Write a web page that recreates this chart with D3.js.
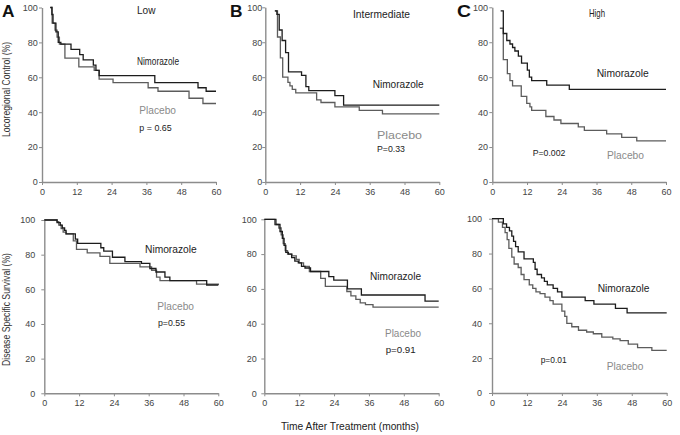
<!DOCTYPE html>
<html><head><meta charset="utf-8">
<script src="https://cdn.jsdelivr.net/npm/d3@7"></script>
<style>body{margin:0;background:#fff;} svg{display:block;font-family:Arial,"Liberation Sans",sans-serif;}</style>
</head><body>
<script>
// ---------------- DATA ----------------
const riskGroups = ["Low", "Intermediate", "High"];
const seriesNames = ["Nimorazole", "Placebo"];
const xTicks = [0, 12, 24, 36, 48, 60];
const yTicks = [0, 20, 40, 60, 80, 100];
const pLRC = ["p = 0.65", "P=0.33", "P=0.002"];
const pDSS = ["p=0.55", "p=0.91", "p=0.01"];

// Locoregional control, [month, %]
const lrcLowNim = [[2.8,100],[3.4,96],[3.8,91],[4.8,86],[5.6,80],[6.5,79],[10,76],[13,73],[14.2,70],[17.7,67],[18.6,64],[19.7,61],[38.9,57],[53.8,54],[56.6,52],[60,52]];
const lrcLowPla = [[3,100],[3.5,91],[4.5,87],[5.2,83],[6,79],[7.9,71],[12.7,66],[18,64],[19.7,59],[24.5,57],[36.6,54],[40,52],[50.7,48],[55.5,45],[60,45]];
const lrcIntNim = [[3.3,98],[4,96],[4.8,87],[5.8,81],[7,74],[8,63],[12.5,61],[14,54.6],[15,52.3],[24,49.4],[27,44],[60,44]];
const lrcIntPla = [[3.3,98],[4.2,83],[5.2,71],[6,60],[7.8,57],[8.5,55],[9.3,53],[10.5,51],[17.7,47],[19.2,45.5],[24,43],[32.4,41],[40.4,39],[60,39]];
const lrcHighNim = [[2.9,98],[3.8,85],[5,81],[6.1,79],[7,77],[7.8,75],[9,72],[10.1,68],[12.1,64],[12.8,60],[13.6,58],[18.8,55.5],[26.6,53],[60,53]];
const lrcHighPla = [[2.6,88],[3.8,70],[5.2,62],[6.1,58],[7,55],[10,49],[11.9,45],[13,43],[13.6,41],[18.5,37.5],[21.3,35.5],[23.7,33.5],[29.7,31.5],[31.8,29.5],[39.5,27.5],[44.7,25.5],[49.9,23.5],[60,23.5]];

// Disease specific survival, [month, %]
const dssLowNim = [[0,100],[4.4,98.5],[5.5,97],[6.2,95.5],[7,94],[7.5,92],[10.7,89],[11.5,86.5],[19.5,84],[20.5,82],[23.5,78.5],[27.8,76],[33.5,75],[36.4,72],[38.5,70],[41.6,67],[43.3,65],[53,65],[56,62.5],[60,62.5]];
const dssLowPla = [[0,100],[4.4,99],[5,97],[5.8,95],[6.5,93],[7.5,92],[10,88],[11.1,83],[14.8,81],[19.2,79],[22.6,75],[33,73],[37,71],[38.7,67],[39.9,65],[52.5,63],[60,62.5]];
const dssIntNim = [[0,100],[4,97],[5.4,93],[6.2,89],[6.8,85],[7.4,81],[8.3,80],[9.4,78],[10.5,76],[11.7,75],[12.8,73],[14,72],[15.9,70],[22.2,67],[23.9,65],[28.6,60],[33.4,56.5],[55.3,53],[60,53]];
const dssIntPla = [[0,100],[3.6,97],[5,95],[5.8,91],[6.5,86],[7.2,82],[8,80],[9.5,79],[11,77],[12,75],[13.5,73],[15.5,70],[19.4,66],[21,61.5],[28.4,58.5],[29.8,56],[31.5,54],[33,52],[34.8,51],[37.4,49.5],[60,49.5]];
const dssHighNim = [[0,100],[3.9,97],[5,95],[6,93],[6.8,90],[7.4,87],[8.1,84],[9,81],[11,77],[14.2,75],[14.8,71],[15.5,68],[17,66],[18,64],[19,62],[21,60],[22.5,58],[24,55],[32,53],[35,51],[42.4,48.5],[46.4,46],[60,46]];
const dssHighPla = [[0,100],[2.2,98],[3.6,95],[4.5,92],[5.2,88],[5.8,83],[6.8,78],[7.6,74],[9,72],[10,68],[11,65],[12.8,62],[14,60],[15.1,58],[16.5,57],[18.2,55],[19.9,53],[21,51],[24,47],[25,44],[25.7,40],[27.4,38],[29.7,36],[32.5,35],[34.8,34],[37.7,32],[41.5,31],[44,30],[46.8,28],[50,26],[54.9,24.5],[60,24.5]];

const lrcSeries = [[lrcLowNim, lrcLowPla], [lrcIntNim, lrcIntPla], [lrcHighNim, lrcHighPla]];
const dssSeries = [[dssLowNim, dssLowPla], [dssIntNim, dssIntPla], [dssHighNim, dssHighPla]];

// ---------------- LAYOUT ----------------
const W = 680, H = 435;
const svg = d3.select("body").append("svg").attr("width", W).attr("height", H);

const layout = [
  // top row
  {x0:42, x1:216, yTop:7.5, yBot:182, pad:1.3, series:lrcSeries[0],
   labels:[[riskGroups[0],137,13.5,11,18.5,"#222"],[seriesNames[0],137,65,10,42,"#222"],[seriesNames[1],139.3,114,10,36.7,"#8a8a8a"],[pLRC[0],139.3,130.5,9,32.4,"#222"]]},
  {x0:265.3, x1:439.3, yTop:7.3, yBot:182, pad:0, series:lrcSeries[1],
   labels:[[riskGroups[1],353,18,11,57,"#222"],[seriesNames[0],372.7,88,10.5,51,"#222"],[seriesNames[1],377,139,10.5,45,"#8a8a8a"],[pLRC[1],377,152.3,9,28,"#222"]]},
  {x0:492.3, x1:666, yTop:7.3, yBot:182, pad:1.3, series:lrcSeries[2],
   labels:[[riskGroups[2],589,17.3,11,16,"#222"],[seriesNames[0],596.7,77,10.5,52,"#222"],[seriesNames[1],607,159.3,10.5,37,"#8a8a8a"],[pLRC[2],532.7,155.6,9,32.7,"#222"]]},
  // bottom row
  {x0:44.3, x1:218.3, yTop:220, yBot:393.3, pad:6, series:dssSeries[0],
   labels:[[seriesNames[0],145,252.7,10.5,51.7,"#222"],[seriesNames[1],157.3,310,10.5,36.7,"#8a8a8a"],[pDSS[0],158,326,9,27,"#222"]]},
  {x0:264.3, x1:438.7, yTop:219.3, yBot:393.3, pad:4.5, series:dssSeries[1],
   labels:[[seriesNames[0],370,280,10.5,51,"#222"],[seriesNames[1],385,337,10.5,36,"#8a8a8a"],[pDSS[1],385.7,353,9,30,"#222"]]},
  {x0:492, x1:666.7, yTop:218.7, yBot:393, pad:7, series:dssSeries[2],
   labels:[[seriesNames[0],597.7,291.7,10.5,51.7,"#222"],[seriesNames[1],606.7,370,10.5,36.7,"#8a8a8a"],[pDSS[2],540.7,362.7,9,26,"#222"]]}
];

const lineColors = ["#1c1c1c", "#5c5c5c"];

function label(g, txt, x, y, size, width, color, opts = {}) {
  const t = g.append("text").attr("x", x).attr("y", y)
    .attr("font-size", size).attr("fill", color).text(txt);
  if (width) t.attr("textLength", width).attr("lengthAdjust", "spacingAndGlyphs");
  if (opts.weight) t.attr("font-weight", opts.weight);
  if (opts.anchor) t.attr("text-anchor", opts.anchor);
  if (opts.transform) t.attr("transform", opts.transform);
  return t;
}

layout.forEach((p) => {
  const x = d3.scaleLinear().domain([0, 60]).range([p.x0, p.x1]);
  const y = d3.scaleLinear().domain([0, 100]).range([p.yBot, p.yTop]);
  const g = svg.append("g");

  const ax = g.append("g").attr("transform", `translate(0,${p.yBot})`)
    .call(d3.axisBottom(x).tickValues(xTicks).tickSize(3).tickSizeOuter(0).tickPadding(3.3));
  const ay = g.append("g").attr("transform", `translate(${p.x0},0)`)
    .call(d3.axisLeft(y).tickValues(yTicks).tickSize(3).tickSizeOuter(0).tickPadding(p.pad));
  [ax, ay].forEach(a => {
    a.select(".domain").attr("stroke", "#8c8c8c").attr("stroke-width", 1.4);
    a.selectAll(".tick line").attr("stroke", "#8c8c8c").attr("stroke-width", 1);
    a.selectAll(".tick text").attr("fill", "#444").attr("font-size", 9)
      .attr("font-family", "Arial, 'Liberation Sans', sans-serif");
  });

  const line = d3.line().x(d => x(d[0])).y(d => y(d[1])).curve(d3.curveStepAfter);
  // draw placebo first, nimorazole on top
  [1, 0].forEach(i => {
    g.append("path").datum(p.series[i]).attr("d", line)
      .attr("fill", "none").attr("stroke", lineColors[i]).attr("stroke-width", 1.3);
  });

  p.labels.forEach(l => label(g, l[0], l[1], l[2], l[3], l[4], l[5]));
});

// panel letters
label(svg, "A", 2, 17, 17, 12.5, "#111", {weight: "bold"});
label(svg, "B", 230, 16.5, 17, 12.5, "#111", {weight: "bold"});
label(svg, "C", 457, 16.5, 17, 14, "#111", {weight: "bold"});

// axis titles
label(svg, "Locoregional Control (%)", 0, 0, 10, 95, "#333", {anchor: "middle", transform: "translate(10,89.5) rotate(-90)"});
label(svg, "Disease Specific Survival (%)", 0, 0, 10, 113, "#333", {anchor: "middle", transform: "translate(10,309.5) rotate(-90)"});
label(svg, "Time After Treatment (months)", 281, 429.5, 11.5, 138, "#222");
</script>
</body></html>
